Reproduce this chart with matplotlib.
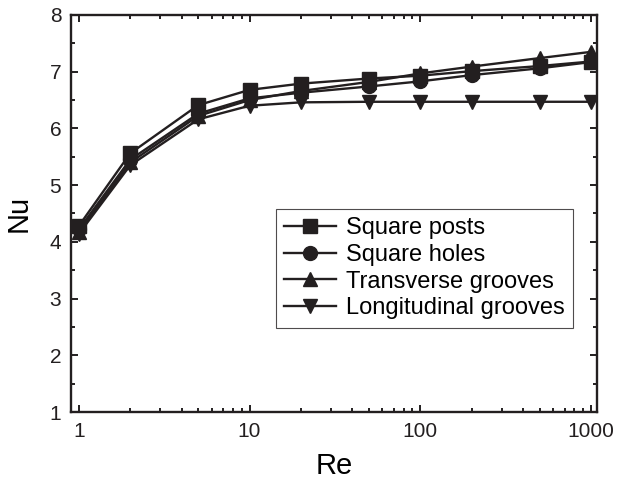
import matplotlib
matplotlib.use("Agg")
import matplotlib.pyplot as plt

plt.rcParams['font.family'] = ['Liberation Sans', 'DejaVu Sans']

re = [1, 2, 5, 10, 20, 50, 100, 200, 500, 1000]
posts = [4.28, 5.56, 6.41, 6.68, 6.79, 6.88, 6.93, 7.01, 7.10, 7.18]
holes = [4.22, 5.45, 6.26, 6.53, 6.63, 6.74, 6.83, 6.94, 7.06, 7.17]
transverse = [4.18, 5.40, 6.22, 6.50, 6.66, 6.82, 6.97, 7.09, 7.24, 7.35]
longitudinal = [4.14, 5.35, 6.16, 6.40, 6.46, 6.47, 6.47, 6.47, 6.47, 6.47]

labels = ['Square posts', 'Square holes', 'Transverse grooves', 'Longitudinal grooves']
markers = ['s', 'o', '^', 'v']

fig = plt.figure(figsize=(6.17, 4.90), dpi=100)
ax = fig.add_axes([71 / 617, 1 - 412 / 490, (597 - 71) / 617, (412 - 15) / 490])

for ys, lab, m in zip([posts, holes, transverse, longitudinal], labels, markers):
    ax.plot(re, ys, color='#231f20', lw=1.7, marker=m, ms=10, label=lab)

ax.set_xscale('log')
ax.set_xlim(0.9, 1085)
ax.set_ylim(1, 8)
ax.set_yticks(range(1, 9))
ax.set_yticks([1.5 + i for i in range(7)], minor=True)
ax.set_xticks([1, 10, 100, 1000])
ax.set_xticklabels(['1', '10', '100', '1000'])

for s in ax.spines.values():
    s.set_linewidth(1.7)
    s.set_color('#231f20')
ax.tick_params(which='both', direction='in', top=True, right=True,
               labelsize=15, colors='#231f20', width=1.4)
ax.tick_params(which='major', length=5, pad=7)
ax.tick_params(which='minor', length=3)

ax.set_xlabel('Re', fontsize=21, labelpad=8)
ax.set_ylabel('Nu', fontsize=21, labelpad=12)

leg = ax.legend(loc='upper left', bbox_to_anchor=(276 / 617, 1 - 209 / 490),
                bbox_transform=fig.transFigure, fontsize=17, frameon=True,
                fancybox=False, edgecolor='#231f20', handlelength=2.2,
                labelspacing=0.2, borderpad=0.35, borderaxespad=0,
                handletextpad=0.4)
leg.get_frame().set_linewidth(0.8)

fig.savefig('out.png', dpi=100)
